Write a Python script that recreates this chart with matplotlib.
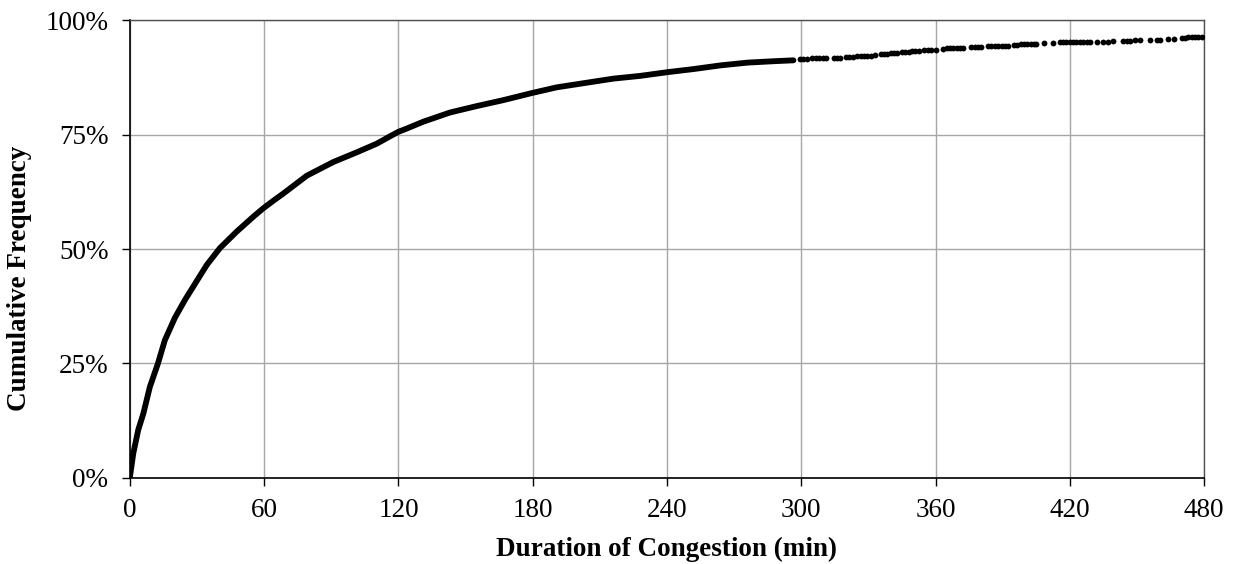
import numpy as np
import matplotlib.pyplot as plt
from matplotlib.ticker import FuncFormatter


# dense part of the curve, drawn as a thick line
duration_main = [0, 1.5, 3.7, 6, 8.9, 12.5, 15.6, 20.1, 24.6, 28.3, 34.3, 40.2,
                 47.7, 55, 59.6, 64.8, 68.5, 79, 90.9, 101.3, 110.3, 116.2, 120,
                 123.7, 131.1, 143, 154.9, 166.8, 180, 190.7, 204, 216, 228,
                 240, 252, 264, 276, 287.5, 296.5]
freq_main = [0.3, 5.4, 10.5, 14.1, 19.9, 25.0, 30.1, 35.0, 38.9, 41.8, 46.5, 50.2,
             53.8, 57.0, 58.9, 60.8, 62.1, 66.0, 69.0, 71.1, 73.0, 74.6, 75.6,
             76.3, 77.8, 79.8, 81.2, 82.5, 84.1, 85.3, 86.3, 87.2, 87.8,
             88.6, 89.3, 90.1, 90.7, 91.0, 91.2]

# sparse tail, individual dots
duration_tail = [299.5, 301, 302.5, 305, 306.5, 308, 309.5, 311, 314.5, 316, 317.5,
                 320, 321.5, 323, 325, 326.5, 328, 329.5, 331, 333,
                 335.5, 337, 338.5, 340, 341.5, 343, 345, 346.5, 348, 349.5, 351, 352.5,
                 355, 356.5, 358, 360, 363.5, 365, 366.5, 368, 369.5, 371, 372.5,
                 376, 377.5, 379, 380.5, 383.5, 385, 386.5, 388, 389.5, 391, 392.5,
                 395, 396.5, 398, 399.5, 401, 402.5, 404, 405, 408.5, 412.5,
                 415.5, 417, 418.5, 420, 421.5, 423, 424.5, 426, 427.5,
                 429, 432, 435, 437, 439.5, 444, 445.5, 447, 449, 451.5,
                 456, 459, 460.5, 464, 466.5, 470, 471.5, 473, 474.5, 476, 477.5, 479]
freq_tail = [91.4, 91.4, 91.4, 91.6, 91.6, 91.6, 91.6, 91.6, 91.8, 91.8, 91.8,
             91.9, 91.9, 91.9, 92.2, 92.2, 92.2, 92.2, 92.2, 92.3,
             92.5, 92.5, 92.6, 92.7, 92.7, 92.8, 93.0, 93.1, 93.1, 93.2, 93.2, 93.2,
             93.4, 93.4, 93.4, 93.4, 93.7, 93.8, 93.8, 93.8, 93.8, 93.9, 93.9,
             94.1, 94.1, 94.1, 94.2, 94.3, 94.3, 94.3, 94.3, 94.3, 94.4, 94.4,
             94.6, 94.6, 94.7, 94.7, 94.7, 94.7, 94.8, 94.8, 94.9, 95.0,
             95.1, 95.1, 95.1, 95.1, 95.1, 95.2, 95.2, 95.2, 95.2,
             95.3, 95.3, 95.3, 95.3, 95.4, 95.5, 95.5, 95.5, 95.6, 95.6,
             95.7, 95.7, 95.7, 95.9, 95.9, 96.1, 96.1, 96.2, 96.2, 96.3, 96.3, 96.4]

x_ticks = [0, 60, 120, 180, 240, 300, 360, 420, 480]
y_ticks = [0, 25, 50, 75, 100]

plt.rcParams["font.family"] = ["Liberation Serif", "DejaVu Serif"]

fig = plt.figure(figsize=(12.33, 5.64), dpi=100)
ax = fig.add_axes([0.1054, 0.1525, 0.8711, 0.812])

ax.plot(duration_main, freq_main, color="black", lw=4.2,
        solid_capstyle="round", solid_joinstyle="round", zorder=3)
ax.plot(duration_tail, freq_tail, "o", color="black", ms=4.2, mew=0, zorder=3)

ax.set_xlim(0, 480)
ax.set_ylim(0, 100)
ax.set_xticks(x_ticks)
ax.set_yticks(y_ticks)
ax.yaxis.set_major_formatter(FuncFormatter(lambda v, _: f"{v:.0f}%"))

ax.grid(True, color="#a6a6a6", lw=1.0)
ax.set_axisbelow(True)
for side in ["top", "right"]:
    ax.spines[side].set_color("#505050")
    ax.spines[side].set_linewidth(1.0)
for side in ["left", "bottom"]:
    ax.spines[side].set_color("black")
    ax.spines[side].set_linewidth(1.2)

ax.tick_params(axis="both", direction="out", length=5.5, width=1.0,
               colors="black", labelsize=19.5)
ax.tick_params(axis="y", pad=10)
ax.tick_params(axis="x", pad=9)

ax.set_xlabel("Duration of Congestion (min)", fontsize=19.5, fontweight="bold", labelpad=10)
ax.set_ylabel("Cumulative Frequency", fontsize=19.5, fontweight="bold")
ax.yaxis.set_label_coords(-0.091, 0.435)

fig.savefig("out.png", dpi=100)
